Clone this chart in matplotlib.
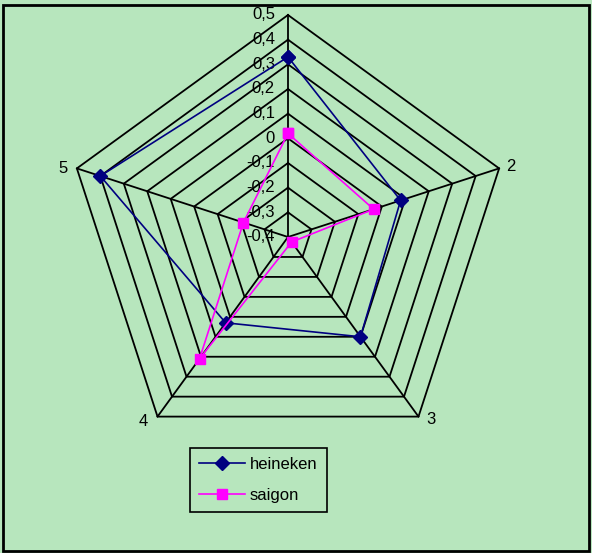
#!/usr/bin/env python3

import numpy as np
import matplotlib.pyplot as plt
from matplotlib.patches import Rectangle

categories = ["1", "2", "3", "4", "5"]
heineken = [0.33, 0.08, 0.10, 0.03, 0.40]
saigon = [0.02, -0.035, -0.375, 0.21, -0.21]
ticks = [-0.4, -0.3, -0.2, -0.1, 0.0, 0.1, 0.2, 0.3, 0.4, 0.5]
tick_labels = ["-0,4", "-0,3", "-0,2", "-0,1", "0", "0,1", "0,2", "0,3", "0,4", "0,5"]

BG = "#b7e6bd"
W, H = 592, 553
CX, CY, RPX = 288, 237, 222   # center and outer radius in pixels
vmin, vmax = ticks[0], ticks[-1]
span = vmax - vmin


def to_xy(vals):
    n = len(vals)
    th = 2 * np.pi * np.arange(n) / n
    r = np.asarray(vals) - vmin
    return r * np.sin(th), r * np.cos(th)


def closed(a):
    return np.append(a, a[0])


def main():
    plt.rcParams['font.family'] = ['Liberation Sans', 'DejaVu Sans']
    fig = plt.figure(figsize=(W / 100, H / 100), dpi=100)
    fig.patch.set_facecolor(BG)
    ax = fig.add_axes([0, 0, 1, 1])
    ax.set_facecolor(BG)
    k = span / RPX
    ax.set_xlim(-CX * k, (W - CX) * k)
    ax.set_ylim((CY - H) * k, CY * k)
    ax.axis('off')

    n = len(categories)
    # rings
    for t in ticks[1:]:
        x, y = to_xy([t] * n)
        ax.plot(closed(x), closed(y), color='black', lw=1.3, zorder=1)
    # spokes
    ox, oy = to_xy([vmax] * n)
    for i in range(n):
        ax.plot([0, ox[i]], [0, oy[i]], color='black', lw=1.3, zorder=1)

    # tick labels along first axis
    for t, lab in zip(ticks, tick_labels):
        ax.text(-13 * k, t - vmin, lab, ha='right', va='center', fontsize=12)

    # category labels (the top one falls on the border)
    offs = [(0, 12), (12, 2), (12, -3), (-14, -5), (-14, 0)]
    for i in range(1, n):
        ax.text(ox[i] + offs[i][0] * k, oy[i] + offs[i][1] * k, categories[i],
                ha='center', va='center', fontsize=12)

    hx, hy = to_xy(heineken)
    ax.plot(closed(hx), closed(hy), color='#000080', lw=1.2, marker='D',
            ms=7, label='heineken', zorder=3)
    sx, sy = to_xy(saigon)
    ax.plot(closed(sx), closed(sy), color='#ff00ff', lw=1.2, marker='s',
            ms=7.5, label='saigon', zorder=3)

    leg = ax.legend(loc='upper left', bbox_to_anchor=(190 / W, 1 - 448 / H),
                    bbox_transform=fig.transFigure, fontsize=12, frameon=True,
                    fancybox=False, facecolor=BG, edgecolor='black',
                    framealpha=1, handlelength=2.75, handletextpad=0.3,
                    borderpad=0.55, labelspacing=0.95, borderaxespad=0)
    leg.get_frame().set_linewidth(1.2)

    fig.patches.append(Rectangle((3 / W, 2 / H), 586 / W, 546 / H,
                                 transform=fig.transFigure, fill=False,
                                 edgecolor='black', lw=2))
    fig.savefig("out.png", dpi=100, facecolor=BG)


if __name__ == "__main__":
    main()
